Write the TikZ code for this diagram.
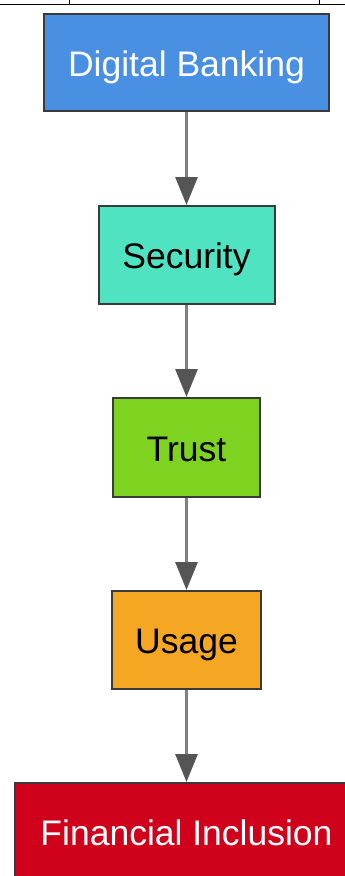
\documentclass[tikz,border=0pt]{standalone}
\usepackage{fontspec}
\setmainfont{Liberation Sans}
\usetikzlibrary{arrows.meta}
\tikzset{
  block/.style={draw=darkline, line width=2pt, rectangle, inner sep=0pt,
    text height=27pt, text depth=0pt,
    font=\fontsize{35.5}{40}\selectfont},
  flow/.style={draw=lineGray, line width=3pt,
    -{Triangle[width=22pt,length=28pt,color=tipGray]}}
}
\begin{document}
\begin{tikzpicture}[x=1pt,y=1pt]
\definecolor{darkline}{HTML}{3A3A3A}
\definecolor{lineGray}{HTML}{808080}
\definecolor{tipGray}{HTML}{555555}
\definecolor{bankBlue}{HTML}{4A90E2}
\definecolor{secTeal}{HTML}{50E3C2}
\definecolor{trustGreen}{HTML}{7ED321}
\definecolor{usageOrange}{HTML}{F5A623}
\definecolor{inclRed}{HTML}{D0021B}

\useasboundingbox (0,0) rectangle (345,-876);
\clip (0,0) rectangle (345,-876);

% cut-off table edge at the top
\draw[line width=1pt] (0,-4) -- (345,-4);
\draw[line width=1pt] (69,0) -- (69,-4);
\draw[line width=1pt] (319,0) -- (319,-4);

\node[block, fill=bankBlue, text=white, minimum width=285pt, minimum height=97pt] (bank) at (186.5,-62.5) {Digital Banking};
\node[block, fill=secTeal, minimum width=176pt, minimum height=98pt] (sec) at (186.5,-255) {Security};
\node[block, fill=trustGreen, minimum width=147pt, minimum height=99pt] (trust) at (186.5,-447.5) {Trust};
\node[block, fill=usageOrange, minimum width=149pt, minimum height=98pt] (usage) at (186.5,-640) {Usage};
\node[block, fill=inclRed, text=white, minimum width=343pt, minimum height=97pt] (incl) at (186.5,-831.5) {Financial Inclusion};

\path[flow] (bank) -- (sec);
\path[flow] (sec) -- (trust);
\path[flow] (trust) -- (usage);
\path[flow] (usage) -- (incl);
\end{tikzpicture}
\end{document}
